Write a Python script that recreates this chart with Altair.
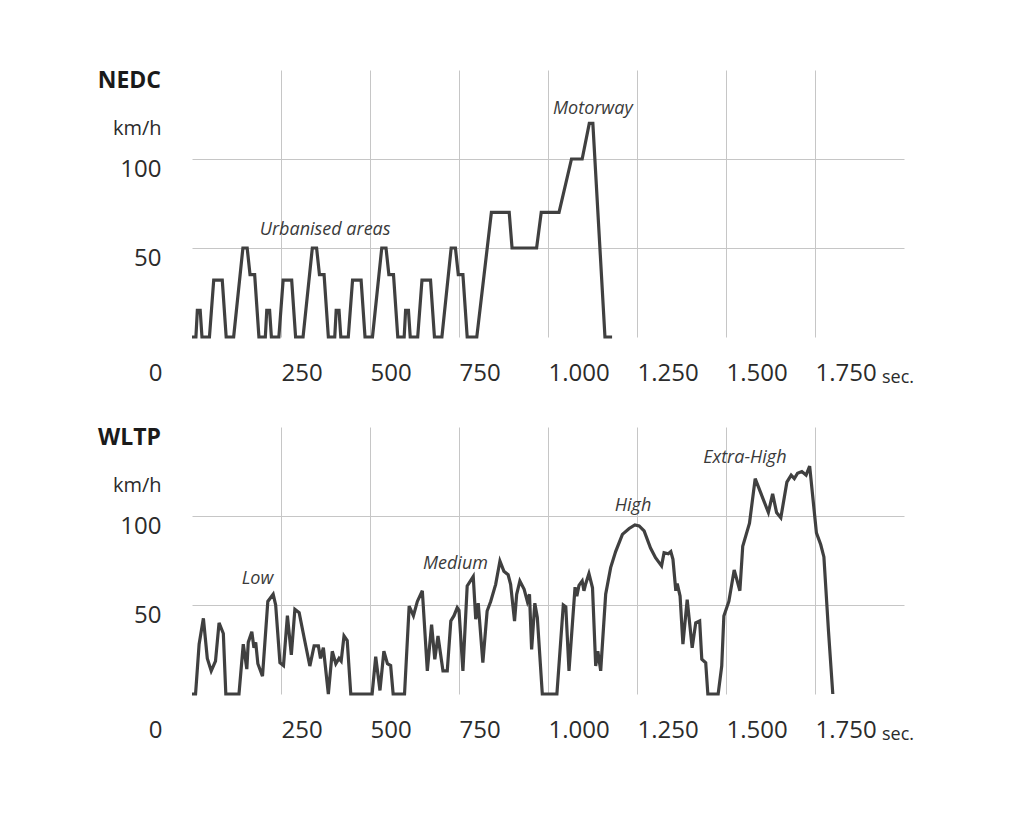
import altair as alt
import pandas as pd

# ---------------- data ----------------
nedc_t = [0, 11, 15, 23, 28, 49, 61, 85, 96, 117, 143, 155, 163, 176, 188,
          195, 206, 210, 218, 223, 244, 256, 280, 291, 312, 338, 350, 358, 371, 383,
          390, 401, 405, 413, 418, 439, 451, 475, 486, 507, 533, 545, 553, 566, 578,
          585, 596, 600, 608, 613, 634, 646, 670, 681, 702, 728, 740, 748, 761, 773,
          780, 800, 841, 891, 899, 968, 981, 1031, 1066, 1096, 1116, 1126, 1160, 1180]
nedc_v = [0, 0, 15, 15, 0, 0, 32, 32, 0, 0, 50, 50, 35, 35, 0,
          0, 0, 15, 15, 0, 0, 32, 32, 0, 0, 50, 50, 35, 35, 0,
          0, 0, 15, 15, 0, 0, 32, 32, 0, 0, 50, 50, 35, 35, 0,
          0, 0, 15, 15, 0, 0, 32, 32, 0, 0, 50, 50, 35, 35, 0,
          0, 0, 70, 70, 50, 50, 70, 70, 100, 100, 120, 120, 0, 0]

wltp_t = [0, 10, 20, 32, 43, 54, 66, 76, 88, 95, 132, 144, 154, 158, 168, 174, 179, 185,
          198, 213, 228, 235, 247, 257, 268, 279, 289, 301, 315, 331, 343, 355, 361, 369,
          383, 394, 404, 413, 419, 427, 436, 446, 506, 516, 528, 539, 549, 558, 565, 597,
          610, 622, 633, 647, 661, 673, 682, 691, 705, 717, 727, 736, 745, 750, 761, 773,
          790, 797, 804, 817, 829, 839, 853, 865, 876, 888, 895, 906, 912, 921, 933, 942,
          948, 954, 963, 970, 984, 1025, 1043, 1050, 1059, 1076, 1081, 1087, 1096, 1101,
          1106, 1115, 1125, 1134, 1140, 1148, 1162, 1176, 1190, 1209, 1228, 1244, 1256,
          1270, 1288, 1302, 1319, 1326, 1338, 1345, 1351, 1359, 1363, 1371, 1379, 1391,
          1405, 1415, 1426, 1432, 1443, 1449, 1478, 1488, 1494, 1508, 1523, 1539, 1547,
          1566, 1582, 1619, 1631, 1642, 1654, 1671, 1683, 1692, 1701, 1713, 1725, 1735,
          1754, 1766, 1775, 1788, 1800]
wltp_v = [0, 0, 28, 42.5, 20, 13, 18.5, 40, 34, 0, 0, 28, 14, 29, 35, 26, 29, 17,
          10, 52, 56, 50, 17.6, 16, 44, 22, 47.6, 45.7, 31.6, 15.7, 27, 27, 20, 26,
          0, 24, 17, 20, 18.5, 32.6, 30, 0, 0, 21, 2, 24, 17, 16, 0, 0,
          49.4, 44, 52, 58, 13, 39, 19.5, 32.6, 13, 13, 41, 44, 48.5, 47, 13, 60.7,
          66, 42, 51, 17.6, 46.6, 52, 61.6, 74.7, 69, 67, 61.6, 41, 56, 63.5, 58.8, 52,
          56, 25, 51, 43, 0, 0, 50, 49, 13, 60, 55, 61, 63.5, 58,
          62, 67.6, 59.7, 15.7, 24, 13, 56, 71, 80, 89.7, 93, 95, 94.4,
          91.6, 82, 76.6, 72, 79.4, 78.8, 80, 75.7, 58, 62, 55, 28, 53,
          26, 40, 41, 19.5, 17.6, 0, 0, 15.7, 43.8, 52, 69.7, 58, 83,
          96, 121, 102, 112.4, 102, 99, 119, 123, 121, 124, 125, 123, 128,
          90.5, 84, 77, 35, 0]

nedc_labels = ["Urbanised areas", "Motorway"]
nedc_lx = [374, 1126]
nedc_ly = [60, 128]

wltp_labels = ["Low", "Medium", "High", "Extra-High"]
wltp_lx = [184, 740, 1239, 1553]
wltp_ly = [64.6, 73, 105.6, 132.6]

x_ticks = [0, 250, 500, 750, 1000, 1250, 1500, 1750]
y_ticks = [50, 100]
panel_names = ["NEDC", "WLTP"]
unit_x = "sec."
unit_y = "km/h"

# ---------------- styling ----------------
FONT = "Open Sans"
TXT = "#2b2b2b"
W, H = 712, 267


def panel(name, ts, vs, labels, lx, ly):
    line_df = pd.DataFrame({"t": ts, "v": vs})
    ann_df = pd.DataFrame({"t": lx, "v": ly, "label": labels})

    x = alt.X(
        "t:Q",
        scale=alt.Scale(domain=[0, 2000], nice=False, zero=False),
        axis=alt.Axis(
            values=x_ticks,
            labelExpr="replace(format(datum.value, ','), ',', '.')",
            labelAlign={"condition": {"test": "datum.value == 0", "value": "right"}, "value": "left"},
            labelOffset={"condition": {"test": "datum.value == 0", "value": -30}, "value": 0},
            gridOpacity={"condition": {"test": "datum.value == 0", "value": 0}, "value": 1},
            labelFlush=False,
            labelOverlap=False,
            labelBound=False,
            ticks=False,
            tickSize=0,
            domain=False,
            labelPadding=24,
            labelFontSize=24,
            labelFont=FONT,
            labelColor=TXT,
            gridColor="#c6c6c6",
            gridWidth=1,
            title=None,
        ),
    )
    y = alt.Y(
        "v:Q",
        scale=alt.Scale(domain=[0, 150], nice=False),
        axis=alt.Axis(
            values=y_ticks,
            labelAlign="right",
            labelBaseline="top",
            labelPadding=31,
            labelOffset=-2,
            ticks=False,
            tickSize=0,
            domain=False,
            labelFontSize=24,
            labelFont=FONT,
            labelColor=TXT,
            gridColor="#c6c6c6",
            gridWidth=1,
            title=unit_y,
            titleAngle=0,
            titleAlign="right",
            titleBaseline="middle",
            titleX=-31,
            titleY=58,
            titleFontSize=20,
            titleFontWeight="normal",
            titleFont=FONT,
            titleColor=TXT,
        ),
    )

    line = alt.Chart(line_df).mark_line(color="#404040", strokeWidth=3.2).encode(x=x, y=y)

    ann = alt.Chart(ann_df).mark_text(
        font=FONT, fontSize=18, fontStyle="italic", color="#3a3a3a",
        align="center", baseline="middle",
    ).encode(x="t:Q", y="v:Q", text="label:N")

    title = alt.Chart(pd.DataFrame({"name": [name]})).mark_text(
        font=FONT, fontSize=23, fontWeight="bold", color="#1a1a1a",
        align="right", baseline="top",
    ).encode(x=alt.value(-31), y=alt.value(0), text="name:N")

    sec = alt.Chart(pd.DataFrame({"u": [unit_x]})).mark_text(
        font=FONT, fontSize=18, color=TXT, align="left", baseline="alphabetic",
    ).encode(x=alt.value(690), y=alt.value(H + 46), text="u:N")

    return alt.layer(line, ann, title, sec).properties(width=W, height=H)


top = panel(panel_names[0], nedc_t, nedc_v, nedc_labels, nedc_lx, nedc_ly)
bottom = panel(panel_names[1], wltp_t, wltp_v, wltp_labels, wltp_lx, wltp_ly)

chart = (
    alt.vconcat(top, bottom, spacing=40)
    .properties(padding={"left": 89, "top": 62, "right": 10, "bottom": 10}, background="white")
    .configure_view(stroke=None)
)

chart.save("out.html", embed_options={"renderer": "svg", "actions": False})
